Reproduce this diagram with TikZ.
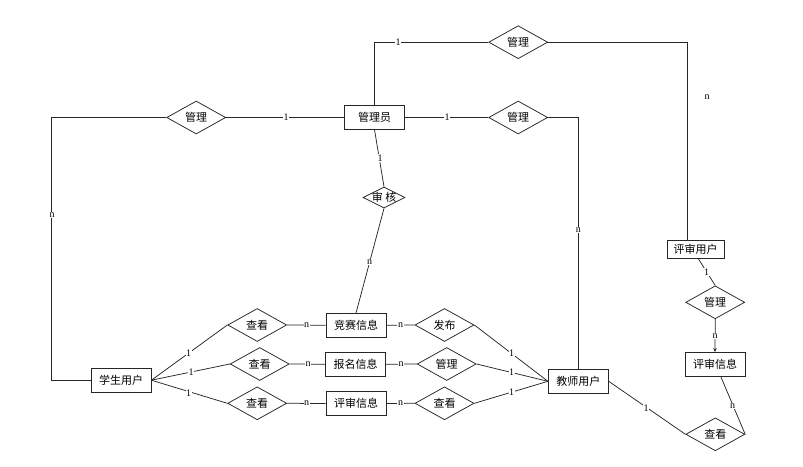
\documentclass[tikz,border=0pt]{standalone}
\usepackage{fontspec}
\setmainfont{Liberation Serif}
\newfontfamily\cjk{Noto Sans CJK SC}
\usetikzlibrary{shapes.geometric,arrows.meta,shadows}
\begin{document}
\begin{tikzpicture}[x=1pt,y=-1pt,
  conn/.style={draw=black!85, line width=0.75pt},
  ent/.style={draw=black!85, line width=0.8pt, fill=white, minimum width=60pt, minimum height=23.5pt,
    inner sep=0pt, font=\cjk\fontsize{11}{11}\selectfont,
    drop shadow={shadow xshift=0.4pt, shadow yshift=-1pt, fill=black!45, opacity=1}},
  rel/.style={draw=black!85, line width=0.75pt, fill=white, diamond, aspect=1.8, inner sep=0pt,
    minimum width=59pt, minimum height=33pt, font=\cjk\fontsize{11}{11}\selectfont},
  lab/.style={fill=white, inner sep=0.6pt, font=\fontsize{10}{10}\selectfont},
  labf/.style={inner sep=0.6pt, font=\fontsize{10}{10}\selectfont}]
\useasboundingbox (0,0) rectangle (803,466);

% entities
\node[ent] (gly) at (374.5,117.5) {管理员};
\node[ent] (xs) at (121,380.2) {学生用户};
\node[ent] (jsx) at (356,325.2) {竞赛信息};
\node[ent] (bmx) at (355.5,364.2) {报名信息};
\node[ent] (psx) at (356,403.5) {评审信息};
\node[ent] (jsyh) at (578.3,381.3) {教师用户};
\node[ent, minimum width=57pt, minimum height=17.6pt] (pu) at (695.7,249.5) {评审用户};
\node[ent] (pi) at (715,364.2) {评审信息};

% relationships
\node[rel] (m1) at (196.2,117.5) {管理};
\node[rel] (m2) at (518.2,42.2) {管理};
\node[rel] (m3) at (518.2,117.5) {管理};
\node[rel, minimum width=42pt, minimum height=21pt, label={center:{\cjk\fontsize{11}{11}\selectfont 审\hspace{2.5pt}核}}] (sh) at (384,197.5) {};
\node[rel] (c1) at (257.2,325) {查看};
\node[rel] (c2) at (259.7,364) {查看};
\node[rel] (c3) at (257.2,403.3) {查看};
\node[rel] (fb) at (444.5,325) {发布};
\node[rel] (gl) at (446.7,364) {管理};
\node[rel] (ck) at (444.5,403.3) {查看};
\node[rel] (gr) at (715.2,302.3) {管理};
\node[rel] (ck2) at (715.3,434.3) {查看};

% connectors
\draw[conn] (m1.west) -- ++(-115,0) |- (xs.west);
\draw[conn] (m1.east) -- (gly.west);
\draw[conn] (gly.north) |- (m2.west);
\draw[conn] (m2.east) -| ([xshift=-8.4pt]pu.north);
\draw[conn] (gly.east) -- (m3.west);
\draw[conn] (m3.east) -| (jsyh.north);
\draw[conn] (gly.south) -- (sh.north);
\draw[conn] (sh.south) -- (jsx.north);
\draw[conn] (xs.east) -- (c1.west);
\draw[conn] (xs.east) -- (c2.west);
\draw[conn] (xs.east) -- (c3.west);
\draw[conn] (c1.east) -- (jsx.west);
\draw[conn] (c2.east) -- (bmx.west);
\draw[conn] (c3.east) -- (psx.west);
\draw[conn] (jsx.east) -- (fb.west);
\draw[conn] (bmx.east) -- (gl.west);
\draw[conn] (psx.east) -- (ck.west);
\draw[conn] (fb.east) -- (jsyh.west);
\draw[conn] (gl.east) -- (jsyh.west);
\draw[conn] (ck.east) -- (jsyh.west);
\draw[conn] (jsyh.east) -- (ck2.west);
\draw[conn] ([xshift=2.6pt]pu.south) -- (gr.north);
\draw[conn, -{Stealth[length=4pt,width=3.5pt]}] (gr.south) -- (pi.north);
\draw[conn] ([xshift=5.7pt]pi.south) -- (ck2.east);

% cardinality labels
\node[lab] (l1) at (52,215) {n};
\node[lab] (l2) at (286,117.5) {1};
\node[lab] (l3) at (398,42) {1};
\node[labf] (l4) at (707,97) {n};
\node[lab] (l5) at (447,117.5) {1};
\node[lab] (l6) at (578.3,230) {n};
\node[lab] (l7) at (380,158) {1};
\node[lab] (l8) at (369.5,262) {n};
\node[lab] (l9) at (188.7,352.7) {1};
\node[lab] (l10) at (191,372.5) {1};
\node[lab] (l11) at (188.7,392.7) {1};
\node[lab] (l12) at (306.7,325) {n};
\node[lab] (l13) at (308,364) {n};
\node[lab] (l14) at (306.7,403.3) {n};
\node[lab] (l15) at (400.5,325) {n};
\node[lab] (l16) at (401,364) {n};
\node[lab] (l17) at (400.5,403.3) {n};
\node[lab] (l18) at (511.7,353.3) {1};
\node[lab] (l19) at (511.7,372.3) {1};
\node[lab] (l20) at (511.7,392.3) {1};
\node[lab] (l21) at (646,407.7) {1};
\node[lab] (l22) at (706.7,272.3) {1};
\node[lab] (l23) at (715.2,336) {n};
\node[lab] (l24) at (732.7,405.7) {n};
\end{tikzpicture}
\end{document}
